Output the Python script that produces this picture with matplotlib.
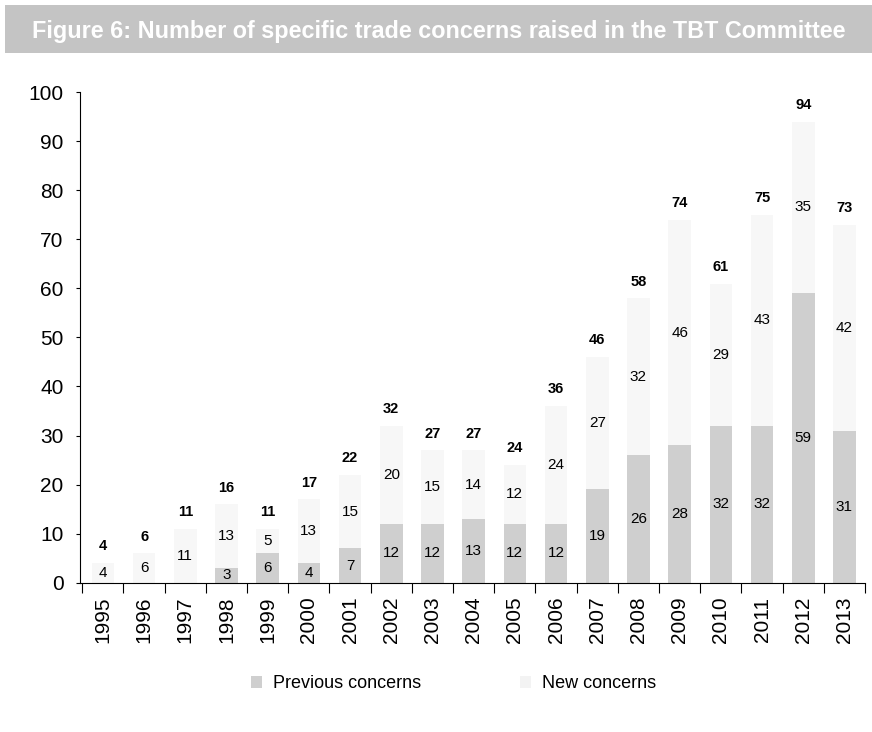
import numpy as np
import matplotlib.pyplot as plt
from matplotlib.patches import Patch, Rectangle

plt.rcParams['font.family'] = ['Liberation Sans', 'DejaVu Sans']

# data
years = [str(y) for y in range(1995, 2014)]
previous = [0, 0, 0, 3, 6, 4, 7, 12, 12, 13, 12, 12, 19, 26, 28, 32, 32, 59, 31]
new = [4, 6, 11, 13, 5, 13, 15, 20, 15, 14, 12, 24, 27, 32, 46, 29, 43, 35, 42]
totals = [p + n for p, n in zip(previous, new)]

fig = plt.figure(figsize=(8.72, 7.32), dpi=100)

# grey title band
fig.patches.append(Rectangle((0.006, 0.928), 0.994, 0.065, transform=fig.transFigure,
                             facecolor='#c4c4c4', edgecolor='none', zorder=0))
fig.text(0.037, 0.957, "Figure 6: Number of specific trade concerns raised in the TBT Committee",
         color='white', fontsize=16.8, fontweight='bold', va='center', ha='left')

ax = fig.add_axes([0.092, 0.204, 0.9, 0.67])
x = np.arange(len(years))
w = 0.55

ax.bar(x, previous, w, color='#cfcfcf', edgecolor='none', label='Previous concerns')
ax.bar(x, new, w, bottom=previous, color='#f7f7f7', edgecolor='none', label='New concerns')

for i in x:
    if previous[i] > 0:
        ax.text(i, previous[i] / 2, str(previous[i]), ha='center', va='center', fontsize=11)
    ax.text(i, previous[i] + new[i] / 2, str(new[i]), ha='center', va='center', fontsize=11)
    ax.annotate(str(totals[i]), (i, totals[i]), xytext=(0, 12), textcoords='offset points',
                ha='center', va='center', fontsize=10.5, fontweight='bold')

ax.set_xlim(-0.55, len(years) - 0.6)
ax.set_ylim(0, 100)
ax.set_yticks(range(0, 101, 10))
ax.tick_params(axis='y', labelsize=15, length=3, width=0.8, pad=9)
ax.set_xticks(x)
ax.set_xticklabels(years, rotation=90, fontsize=15)
ax.set_xticks(np.arange(-0.5, len(years), 1), minor=True)
ax.tick_params(axis='x', which='major', length=0, pad=10)
ax.tick_params(axis='x', which='minor', length=7, width=0.8)
for s in ['top', 'right']:
    ax.spines[s].set_visible(False)
for s in ['left', 'bottom']:
    ax.spines[s].set_linewidth(0.8)

handles = [Patch(facecolor='#cfcfcf', edgecolor='none'),
           Patch(facecolor='#f3f3f3', edgecolor='none')]
fig.legend(handles, ['Previous concerns', 'New concerns'], loc='center',
           bbox_to_anchor=(0.52, 0.066), ncol=2, frameon=False, fontsize=13,
           handlelength=0.6, handleheight=0.6, columnspacing=5.5, handletextpad=0.6)

fig.savefig('out.png', dpi=100)
